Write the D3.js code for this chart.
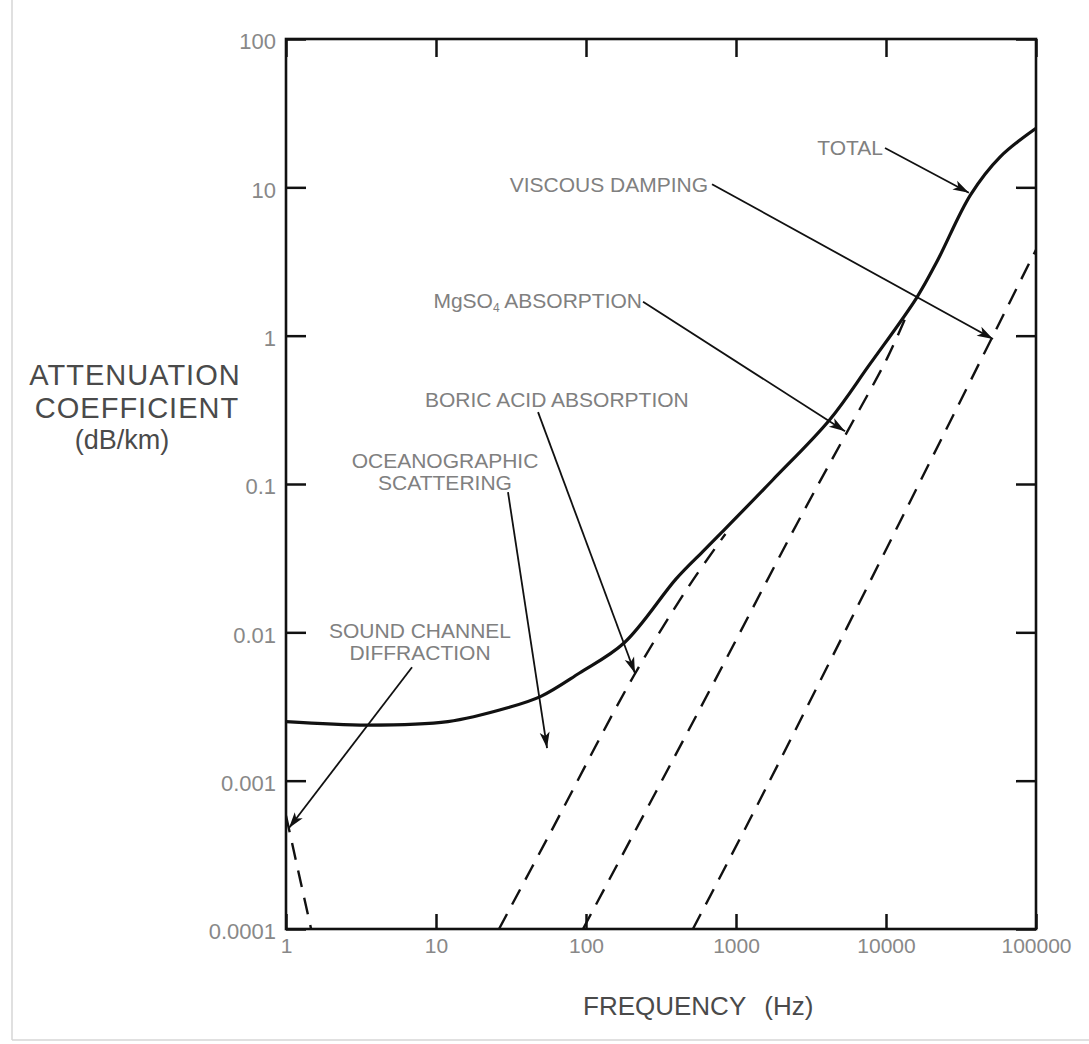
<!DOCTYPE html>
<html>
<head>
<meta charset="utf-8">
<script src="https://cdn.jsdelivr.net/npm/d3@7"></script>
<style>
  html, body { margin: 0; padding: 0; background: #fff; }
  svg { display: block; font-family: "Liberation Sans", Arial, Helvetica, sans-serif; }
</style>
</head>
<body>
<svg id="chart" width="1089" height="1044"></svg>
<script>
// ---------------- data ----------------
const xTicks = [1, 10, 100, 1000, 10000, 100000];
const xTickLabels = ["1", "10", "100", "1000", "10000", "100000"];
const yTicks = [0.0001, 0.001, 0.01, 0.1, 1, 10, 100];
const yTickLabels = ["0.0001", "0.001", "0.01", "0.1", "1", "10", "100"];

// Total attenuation (solid)
const totalFreq  = [1, 3.5, 12, 30, 50, 90, 180, 400, 600, 800, 1750, 4200, 7700, 16000, 22000, 36600, 57500, 100000];
const totalAtten = [0.0025, 0.00237, 0.0025, 0.0031, 0.0037, 0.0053, 0.0085, 0.023, 0.035, 0.047, 0.106, 0.27, 0.63, 1.8, 3.2, 8.9, 16, 25];

// Component curves (dashed)
const soundFreq  = [1, 1.47];
const soundAtten = [0.00058, 0.0001];
const boricFreq  = [26.3, 57.5, 206, 493, 850];
const boricAtten = [0.0001, 0.00044, 0.005, 0.021, 0.046];
const mgso4Freq  = [95.5, 671, 2550, 5170, 10150, 13400];
const mgso4Atten = [0.0001, 0.0041, 0.054, 0.2, 0.7, 1.3];
const viscFreq   = [516, 1610, 100000];
const viscAtten  = [0.0001, 0.00092, 3.8];

// Annotation labels and arrows (arrow ends in data units: [freq, atten])
const annLabels = [["TOTAL"], ["VISCOUS DAMPING"], ["MgSO|4| ABSORPTION"], ["BORIC ACID ABSORPTION"],
                   ["OCEANOGRAPHIC", "SCATTERING"], ["SOUND CHANNEL", "DIFFRACTION"]];
const annFrom = [[9850, 18.4], [692, 10.5], [240, 1.69], [47.9, 0.305], [30.2, 0.088], [6.92, 0.00582]];
const annTo   = [[35700, 9.2], [51700, 0.95], [5330, 0.227], [212, 0.0053], [55, 0.00166], [1.047, 0.00048]];

// ---------------- layout ----------------
const svg = d3.select("#chart");
const L = 286, R = 1036, T = 39, B = 929;
const x = d3.scaleLog().domain([1, 100000]).range([L, R]);
const y = d3.scaleLog().domain([0.0001, 100]).range([B, T]);

const tickColor = "#888888";
const annColor = "#808080";

// faint scan edges
svg.append("line").attr("x1", 12).attr("y1", 0).attr("x2", 12).attr("y2", 1040)
  .attr("stroke", "#d6d6d6").attr("stroke-width", 1.5);
svg.append("line").attr("x1", 12).attr("y1", 1040).attr("x2", 1089).attr("y2", 1040)
  .attr("stroke", "#d6d6d6").attr("stroke-width", 1.5);

// Axes with inward ticks
const gB = svg.append("g").attr("transform", `translate(0,${B})`)
  .call(d3.axisBottom(x).tickValues(xTicks).tickSizeInner(-15).tickSizeOuter(0).tickPadding(9)
        .tickFormat((d, i) => xTickLabels[i]));
const gL = svg.append("g").attr("transform", `translate(${L},0)`)
  .call(d3.axisLeft(y).tickValues(yTicks).tickSizeInner(-20).tickSizeOuter(0).tickPadding(10)
        .tickFormat((d, i) => yTickLabels[i]));
const gT = svg.append("g").attr("transform", `translate(0,${T})`)
  .call(d3.axisTop(x).tickValues(xTicks).tickSizeInner(-18).tickSizeOuter(0).tickFormat(""));
const gR = svg.append("g").attr("transform", `translate(${R},0)`)
  .call(d3.axisRight(y).tickValues(yTicks).tickSizeInner(-20).tickSizeOuter(0).tickFormat(""));

[gB, gL, gT, gR].forEach(g => {
  g.select(".domain").remove();
  g.selectAll(".tick line").attr("stroke", "#111").attr("stroke-width", 2.5);
  g.selectAll(".tick text").attr("fill", tickColor).style("font-size", "21px")
    .style("font-family", '"Liberation Sans", Arial, sans-serif');
});
gL.selectAll(".tick text").attr("dy", "0.45em").style("font-size", "22px");

// frame
svg.append("rect").attr("x", L).attr("y", T).attr("width", R - L).attr("height", B - T)
  .attr("fill", "none").attr("stroke", "#111").attr("stroke-width", 2.6);

// clip
svg.append("clipPath").attr("id", "plotclip").append("rect")
  .attr("x", L).attr("y", T).attr("width", R - L).attr("height", B - T);

const line = d3.line().x(d => x(d[0])).y(d => y(d[1])).curve(d3.curveCatmullRom.alpha(0.5));
const zip = (a, b) => a.map((v, i) => [v, b[i]]);

const plot = svg.append("g").attr("clip-path", "url(#plotclip)");

// dashed components
[[soundFreq, soundAtten], [boricFreq, boricAtten], [mgso4Freq, mgso4Atten], [viscFreq, viscAtten]]
  .forEach(([f, a]) => {
    plot.append("path").datum(zip(f, a)).attr("d", line)
      .attr("fill", "none").attr("stroke", "#111").attr("stroke-width", 2.4)
      .attr("stroke-dasharray", "17,11");
  });

// total
plot.append("path").datum(zip(totalFreq, totalAtten)).attr("d", line)
  .attr("fill", "none").attr("stroke", "#111").attr("stroke-width", 3.2);

// arrow marker
svg.append("defs").append("marker").attr("id", "arr")
  .attr("viewBox", "-18 -6 20 12").attr("refX", 0).attr("refY", 0)
  .attr("markerWidth", 20).attr("markerHeight", 12).attr("markerUnits", "userSpaceOnUse")
  .attr("orient", "auto")
  .append("path").attr("d", "M0,0 L-16,-5 L-12,0 L-16,5 Z").attr("fill", "#111");

annFrom.forEach((p, i) => {
  svg.append("line")
    .attr("x1", x(p[0])).attr("y1", y(p[1]))
    .attr("x2", x(annTo[i][0])).attr("y2", y(annTo[i][1]))
    .attr("stroke", "#111").attr("stroke-width", 1.8).attr("marker-end", "url(#arr)");
});

// annotation text positions
const annPos = [
  { x: 883, y: 155, anchor: "end" },
  { x: 708, y: 192, anchor: "end" },
  { x: 642, y: 308, anchor: "end" },
  { x: 425, y: 407, anchor: "start" },
  { x: 445, y: 468, anchor: "middle", dy: 22 },
  { x: 420, y: 638, anchor: "middle", dy: 22 }
];
annLabels.forEach((lines, i) => {
  const p = annPos[i];
  lines.forEach((ln, j) => {
    const t = svg.append("text").attr("x", p.x).attr("y", p.y + j * (p.dy || 0))
      .attr("text-anchor", p.anchor).attr("fill", annColor).style("font-size", "21px");
    const parts = ln.split("|");
    parts.forEach((s, k) => {
      const ts = t.append("tspan").text(s);
      if (k % 2 === 1) ts.style("font-size", "12px").attr("dy", 4);
      else if (k > 0) ts.attr("dy", -4);
    });
  });
});

// axis titles
const titleColor = "#4a4a4a";
const yt = svg.append("g").attr("fill", titleColor).attr("text-anchor", "middle");
yt.append("text").attr("x", 135).attr("y", 385).style("font-size", "29px").style("letter-spacing", "1px").text("ATTENUATION");
yt.append("text").attr("x", 137).attr("y", 418).style("font-size", "29px").style("letter-spacing", "1px").text("COEFFICIENT");
yt.append("text").attr("x", 122).attr("y", 449).style("font-size", "27px").text("(dB/km)");

const xt = svg.append("text").attr("x", 583).attr("y", 1015).attr("fill", titleColor).style("font-size", "26px");
xt.append("tspan").text("FREQUENCY");
xt.append("tspan").attr("dx", 18).text("(Hz)");
</script>
</body>
</html>
